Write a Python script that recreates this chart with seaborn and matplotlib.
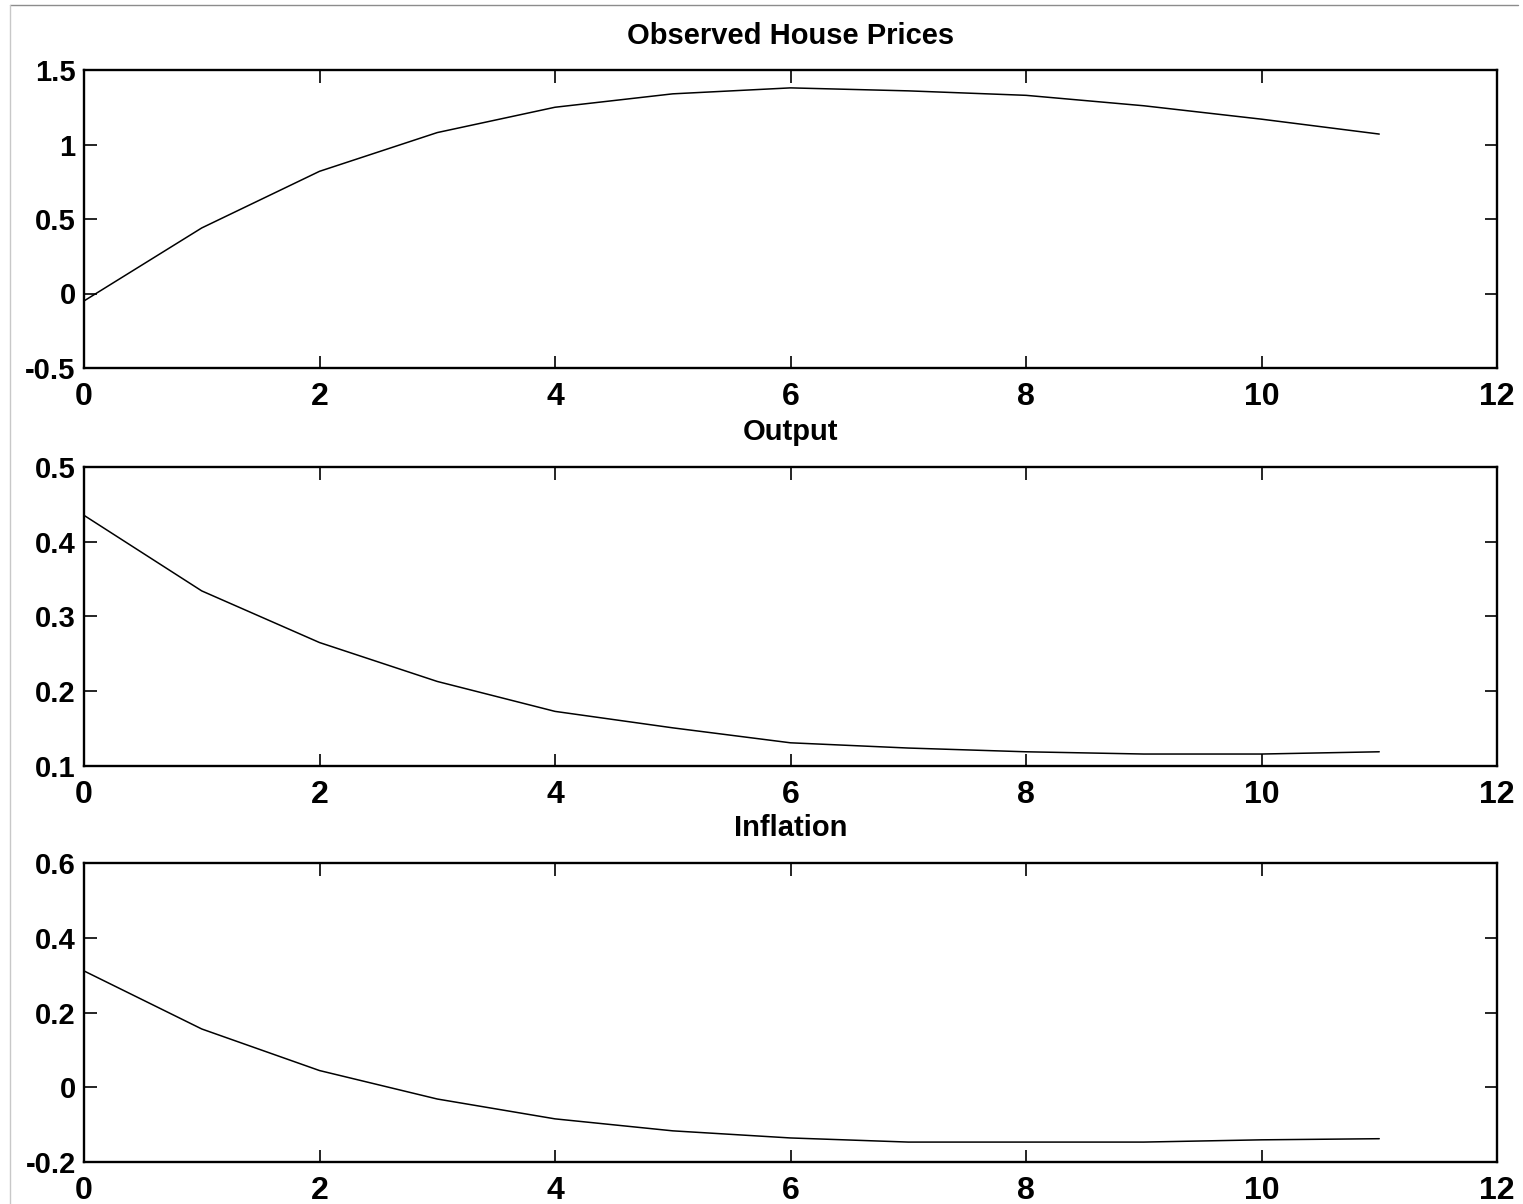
import numpy as np
import pandas as pd
import matplotlib
matplotlib.use("Agg")
import matplotlib.pyplot as plt
import seaborn as sns
from matplotlib.lines import Line2D

periods = list(range(12))
house_prices = [-0.05, 0.44, 0.82, 1.08, 1.25, 1.34, 1.38, 1.36, 1.33, 1.26, 1.17, 1.07]
output = [0.435, 0.334, 0.265, 0.213, 0.173, 0.151, 0.131, 0.124, 0.119, 0.116, 0.116, 0.119]
inflation = [0.311, 0.156, 0.045, -0.031, -0.084, -0.116, -0.135, -0.146, -0.146, -0.146, -0.140, -0.137]

titles = ["Observed House Prices", "Output", "Inflation"]
series = [house_prices, output, inflation]
ylims = [(-0.5, 1.5), (0.1, 0.5), (-0.2, 0.6)]
yticks = [[-0.5, 0, 0.5, 1, 1.5], [0.1, 0.2, 0.3, 0.4, 0.5], [-0.2, 0, 0.2, 0.4, 0.6]]
yticklabels = [["-0.5", "0", "0.5", "1", "1.5"], ["0.1", "0.2", "0.3", "0.4", "0.5"],
               ["-0.2", "0", "0.2", "0.4", "0.6"]]
xticks = [0, 2, 4, 6, 8, 10, 12]

sns.set_style("white")
plt.rcParams['font.family'] = ['Liberation Sans', 'DejaVu Sans']
plt.rcParams['font.weight'] = 'bold'
plt.rcParams['text.color'] = 'black'
plt.rcParams['xtick.color'] = 'black'
plt.rcParams['ytick.color'] = 'black'
plt.rcParams['axes.labelcolor'] = 'black'

fig = plt.figure(figsize=(15.23, 12.04), dpi=100)
fig.patch.set_facecolor("white")

positions = [
    (84 / 1523, 1 - 368 / 1204, (1497 - 84) / 1523, 298 / 1204),
    (84 / 1523, 1 - 766 / 1204, (1497 - 84) / 1523, 299.3 / 1204),
    (84 / 1523, 1 - 1162.3 / 1204, (1497 - 84) / 1523, 299.6 / 1204),
]

for pos, title, vals, yl, yt, ytl in zip(positions, titles, series, ylims, yticks, yticklabels):
    ax = fig.add_axes(pos)
    df = pd.DataFrame({"period": periods, "value": vals})
    sns.lineplot(data=df, x="period", y="value", ax=ax, color="black", linewidth=1.1)
    ax.set_xlim(0, 12)
    ax.set_ylim(*yl)
    ax.set_xticks(xticks)
    ax.set_xticklabels([str(t) for t in xticks], fontsize=23, fontweight='bold', color='black')
    ax.set_yticks(yt)
    ax.set_yticklabels(ytl, fontsize=21, fontweight='bold', color='black')
    ax.set_xlabel("")
    ax.set_ylabel("")
    ax.set_title(title, fontsize=21, fontweight='bold', pad=19, color='black')
    for sp in ax.spines.values():
        sp.set_visible(True)
        sp.set_color("black")
        sp.set_linewidth(1.7)
    ax.tick_params(axis='both', direction='in', length=9, width=1.2, color='black',
                   top=True, right=True, bottom=True, left=True)
    ax.tick_params(axis='x', pad=10)
    ax.tick_params(axis='y', pad=6)

# light figure frame
fig.add_artist(Line2D([10 / 1523, 1518 / 1523], [1 - 5 / 1204, 1 - 5 / 1204],
                      transform=fig.transFigure, color="#8c8c8c", linewidth=1.0))
fig.add_artist(Line2D([10 / 1523, 10 / 1523], [0, 1 - 5 / 1204],
                      transform=fig.transFigure, color="#c8c8c8", linewidth=1.0))

fig.savefig("out.png", dpi=100, facecolor="white")
